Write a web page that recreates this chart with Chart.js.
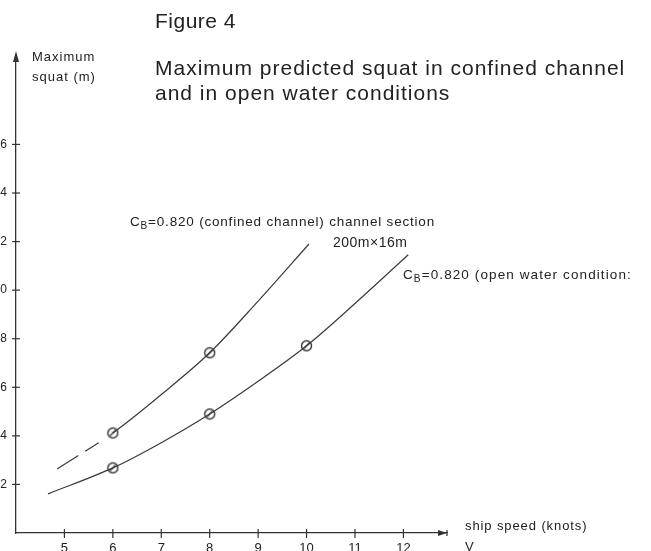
<!DOCTYPE html>
<html><head><meta charset="utf-8">
<script src="https://cdn.jsdelivr.net/npm/chart.js@4.4.1/dist/chart.umd.min.js"></script>
<style>
html,body{margin:0;padding:0;background:#fff;overflow:hidden;width:651px;height:551px;}
#wrap{position:relative;width:651px;height:551px;overflow:hidden;}
canvas{position:absolute;left:-24px;top:0;}
.t{position:absolute;white-space:nowrap;color:#222;font-family:"Liberation Sans",Arial,sans-serif;}
sub{font-size:75%;vertical-align:-0.25em;line-height:0;}
</style></head>
<body><div id="wrap">
<canvas id="c" width="675" height="551"></canvas>
<div class="t" style="left:155px;top:8px;font-size:21px;line-height:26px;letter-spacing:0.5px;">Figure 4</div>
<div class="t" style="left:155px;top:55px;font-size:21px;line-height:25px;letter-spacing:1px;">Maximum predicted squat in confined channel<br>and in open water conditions</div>
<div class="t" style="left:32px;top:47px;font-size:13px;line-height:20px;letter-spacing:1px;">Maximum<br>squat (m)</div>
<div class="t" style="left:130px;top:213px;font-size:13.5px;line-height:17px;letter-spacing:0.8px;">C<sub>B</sub>=0.820 (confined channel) channel section</div>
<div class="t" style="left:333px;top:234px;font-size:14px;line-height:17px;letter-spacing:0.5px;">200m×16m</div>
<div class="t" style="left:403px;top:266px;font-size:13.5px;line-height:17px;letter-spacing:1.1px;">C<sub>B</sub>=0.820 (open water condition:</div>
<div class="t" style="left:465px;top:515px;font-size:13px;line-height:21px;letter-spacing:0.9px;">ship speed (knots)<br>V</div>
</div>
<script>
// ---- data ----
const xTicks = [5, 6, 7, 8, 9, 10, 11, 12];
const yTicks = [0.2, 0.4, 0.6, 0.8, 1.0, 1.2, 1.4, 1.6];

const confinedCurveSpeed = [4.85, 6, 7, 8, 9, 10.05];
const confinedCurveSquat = [0.264, 0.412, 0.57, 0.742, 0.955, 1.19];
const confinedPointSpeed = [6, 8];
const confinedPointSquat = [0.412, 0.742];

const openCurveSpeed = [4.66, 6, 7, 8, 9, 10, 11, 12.1];
const openCurveSquat = [0.161, 0.268, 0.372, 0.49, 0.625, 0.771, 0.945, 1.146];
const openPointSpeed = [6, 8, 10];
const openPointSquat = [0.268, 0.49, 0.771];

const pairs = (xs, ys) => xs.map((x, i) => ({x: x, y: ys[i]}));

// circle-with-slash marker style
const mk = document.createElement('canvas');
mk.width = 13; mk.height = 13;
(function(){
  const g = mk.getContext('2d');
  g.strokeStyle = '#333'; g.lineWidth = 1.4;
  g.beginPath(); g.arc(6.5, 6.5, 5, 0, Math.PI * 2); g.stroke();
  g.beginPath(); g.moveTo(3.8, 9.2); g.lineTo(9.2, 3.8); g.stroke();
})();

const axisDeco = {
  id: 'axisDeco',
  afterDraw(chart) {
    const {ctx, chartArea: a, scales: {x, y}} = chart;
    ctx.save();
    ctx.strokeStyle = '#333'; ctx.fillStyle = '#333'; ctx.lineWidth = 1.2;
    xTicks.forEach(v => {
      const p = x.getPixelForValue(v);
      ctx.beginPath(); ctx.moveTo(p, a.bottom - 4); ctx.lineTo(p, a.bottom + 5); ctx.stroke();
    });
    yTicks.forEach(v => {
      const p = y.getPixelForValue(v);
      ctx.beginPath(); ctx.moveTo(a.left - 4, p); ctx.lineTo(a.left + 4, p); ctx.stroke();
    });
    // y arrow
    ctx.beginPath();
    ctx.moveTo(a.left, a.top - 6); ctx.lineTo(a.left - 3, a.top + 5); ctx.lineTo(a.left + 3, a.top + 5);
    ctx.closePath(); ctx.fill();
    // x arrow
    ctx.beginPath();
    ctx.moveTo(a.right, a.bottom); ctx.lineTo(a.right - 9, a.bottom - 3); ctx.lineTo(a.right - 9, a.bottom + 3);
    ctx.closePath(); ctx.fill();
    ctx.beginPath(); ctx.moveTo(a.right, a.bottom - 3); ctx.lineTo(a.right, a.bottom + 3); ctx.stroke();
    ctx.restore();
  }
};

const lineDs = (data, firstDash) => ({
  data, showLine: true, borderColor: '#3a3a3a', borderWidth: 1.2,
  pointRadius: 0, tension: 0.4, cubicInterpolationMode: 'monotone', fill: false,
  segment: firstDash ? {borderDash: c => c.p0DataIndex === 0 ? firstDash : undefined} : undefined
});
const ptDs = (data) => ({
  data, showLine: false, pointStyle: mk, pointRadius: 6, borderColor: '#333', backgroundColor: '#333'
});

new Chart(document.getElementById('c'), {
  type: 'scatter',
  data: {
    datasets: [
      lineDs(pairs(confinedCurveSpeed, confinedCurveSquat), [25, 8, 16, 200]),
      lineDs(pairs(openCurveSpeed, openCurveSquat)),
      ptDs(pairs(confinedPointSpeed, confinedPointSquat)),
      ptDs(pairs(openPointSpeed, openPointSquat))
    ]
  },
  options: {
    responsive: false, animation: false,
    layout: {padding: {top: 57, right: 204, left: 0, bottom: 0}},
    plugins: {legend: {display: false}, tooltip: {enabled: false}},
    scales: {
      x: {
        type: 'linear', min: 4, max: 12.9,
        afterBuildTicks: s => { s.ticks = xTicks.map(v => ({value: v})); },
        afterFit: s => { s.height = 18; },
        grid: {display: false},
        border: {display: true, color: '#333', width: 1.3},
        ticks: {padding: 0, color: '#222', font: {family: 'Liberation Sans', size: 13}, maxRotation: 0, autoSkip: false}
      },
      y: {
        type: 'linear', min: 0, max: 1.96,
        afterBuildTicks: s => { s.ticks = yTicks.map(v => ({value: v})); },
        afterFit: s => { s.width = 40; },
        grid: {display: false},
        border: {display: true, color: '#333', width: 1.3},
        ticks: {padding: 1, color: '#222', font: {family: 'Liberation Sans', size: 12}, callback: v => v.toFixed(1)}
      }
    }
  },
  plugins: [axisDeco]
});
</script>
</body></html>
